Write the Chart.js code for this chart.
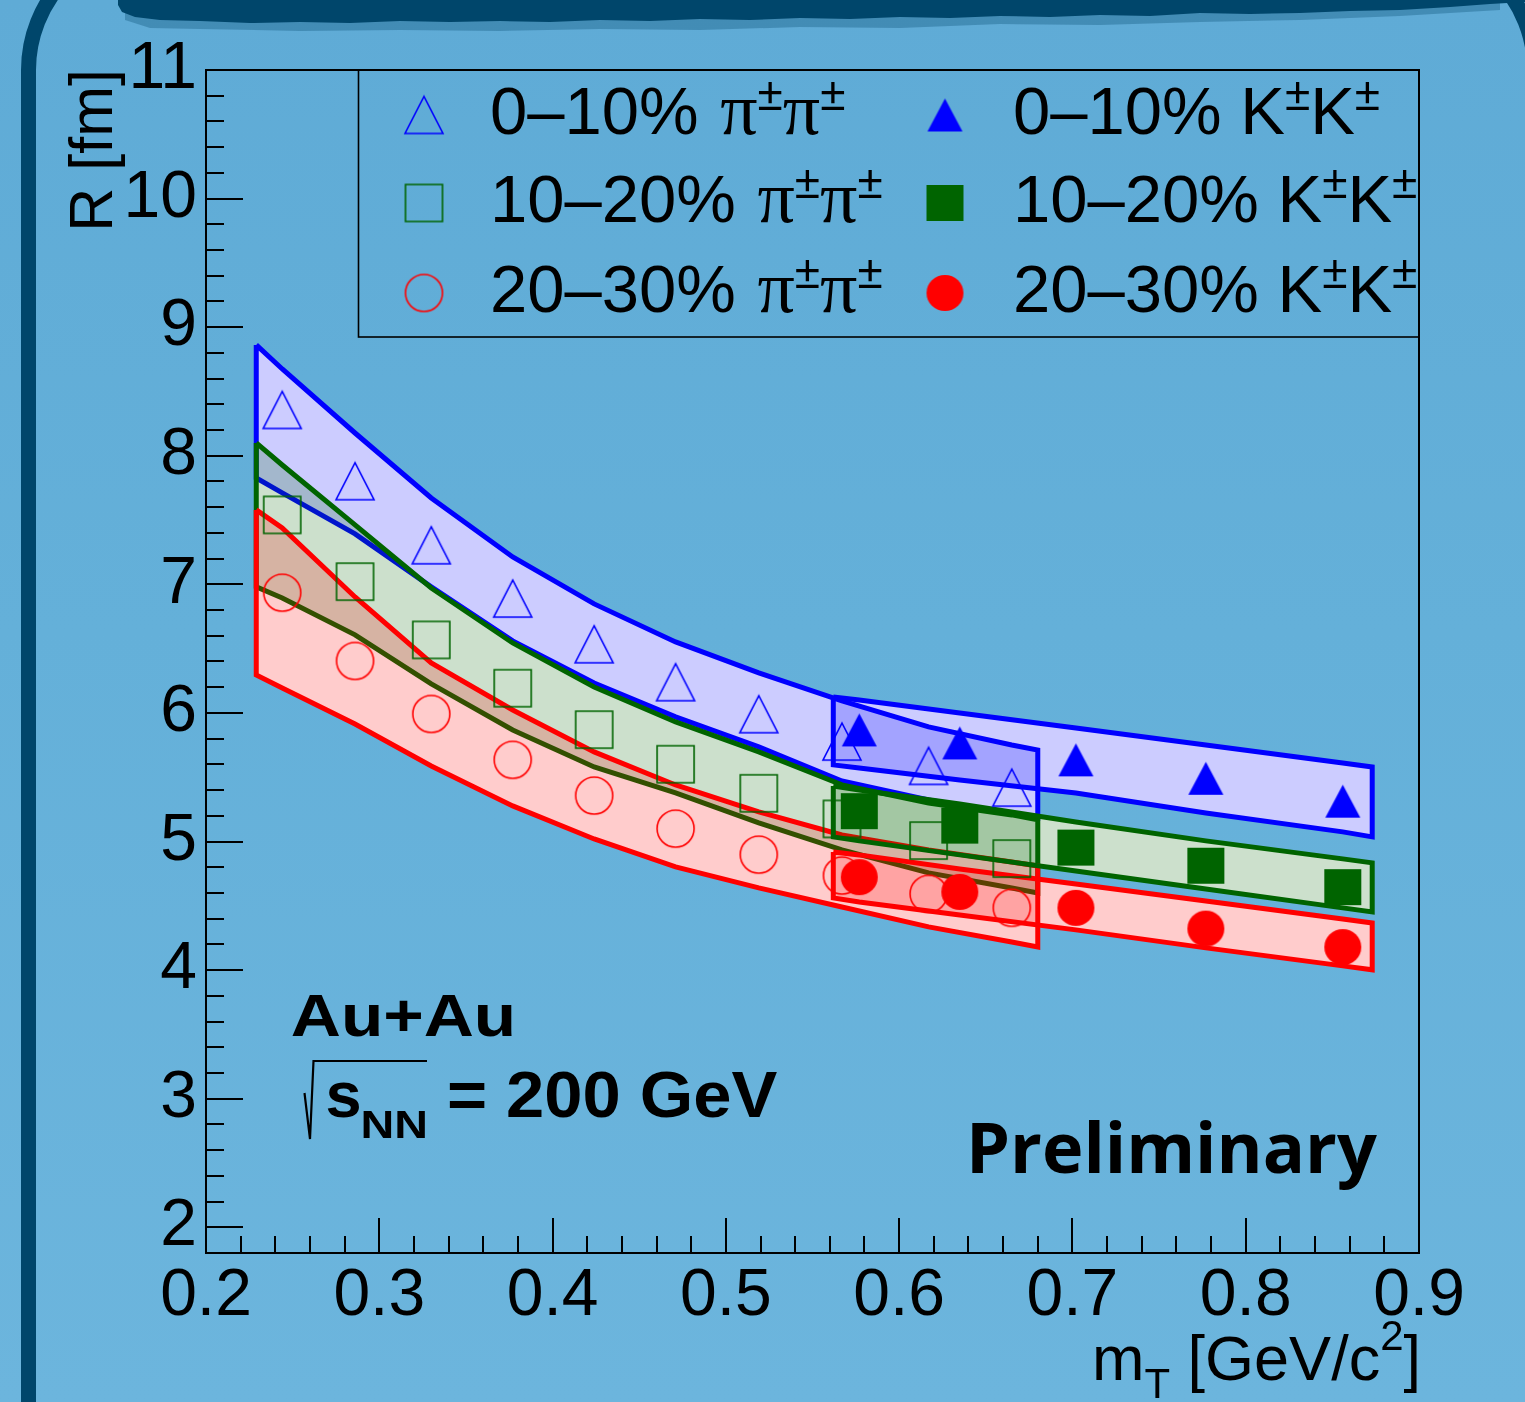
<!DOCTYPE html>
<html>
<head>
<meta charset="utf-8">
<title>HBT radii vs mT</title>
<script src="https://cdn.jsdelivr.net/npm/chart.js@4.4.1/dist/chart.umd.min.js"></script>
<style>
html,body{margin:0;padding:0;width:1525px;height:1402px;overflow:hidden;
  background:linear-gradient(180deg,#5fabd6 0%,#64b0d9 45%,#6cb5dd 100%);}
#frame{position:absolute;left:21px;top:-68px;width:1491px;height:1600px;border:15px solid #00466b;border-radius:138px;}
#brush{position:absolute;left:0;top:0;}
#c{position:absolute;left:0;top:0;}
</style>
</head>
<body>
<div id="frame"></div>
<svg id="brush" width="1525" height="60" viewBox="0 0 1525 60">
  <path fill="#00466b" opacity="0.3" d="M125,0 L1500,0 L1500,10 L1400,16 L1300,20 L1200,22 L1100,25 L1000,24 L900,28 L800,27 L700,30 L600,29 L500,31 L400,30 L300,31 L200,29 L150,28 L125,20 Z"/>
  <path fill="#00466b" d="M118,0 L1525,0 L1525,2 L1490,4 L1450,7 L1400,10 L1350,11 L1300,13 L1250,14 L1200,13 L1150,16 L1100,15 L1050,17 L1000,16 L950,18 L900,17 L850,19 L800,18 L750,20 L700,19 L650,21 L600,20 L550,22 L500,21 L450,22 L400,21 L350,23 L300,22 L250,23 L200,21 L160,20 L135,17 L122,12 L118,5 Z"/>
</svg>
<canvas id="c" width="1525" height="1402"></canvas>
<script>
// ---------------- data ----------------
const xTickValues = [0.2, 0.3, 0.4, 0.5, 0.6, 0.7, 0.8, 0.9];
const xTickLabels = ['0.2', '0.3', '0.4', '0.5', '0.6', '0.7', '0.8', '0.9'];
const yTickValues = [2, 3, 4, 5, 6, 7, 8, 9, 10, 11];
const yTickLabels = ['2', '3', '4', '5', '6', '7', '8', '9', '10', '11'];

const centralityLabels = ['0\u201310%', '10\u201320%', '20\u201330%'];

const pionMt = [0.244, 0.286, 0.330, 0.377, 0.424, 0.471, 0.519, 0.567, 0.617, 0.665];
const pionR_0_10  = [8.356, 7.802, 7.304, 6.889, 6.534, 6.239, 5.990, 5.777, 5.588, 5.419];
const pionR_10_20 = [7.540, 7.021, 6.568, 6.192, 5.870, 5.601, 5.375, 5.176, 5.007, 4.867];
const pionR_20_30 = [6.935, 6.404, 5.992, 5.635, 5.357, 5.100, 4.898, 4.735, 4.593, 4.484];

const kaonMt = [0.577, 0.635, 0.702, 0.777, 0.856];
const kaonR_0_10  = [5.868, 5.767, 5.635, 5.492, 5.314];
const kaonR_10_20 = [5.236, 5.124, 4.953, 4.812, 4.645];
const kaonR_20_30 = [4.723, 4.608, 4.484, 4.323, 4.179];

const pionSysMt = [0.229, 0.244, 0.286, 0.330, 0.377, 0.424, 0.471, 0.519, 0.567, 0.617, 0.665, 0.680];
const pionSysHi_0_10  = [8.862, 8.675, 8.177, 7.672, 7.213, 6.848, 6.552, 6.311, 6.093, 5.891, 5.751, 5.712];
const pionSysLo_0_10  = [7.827, 7.711, 7.392, 6.980, 6.560, 6.233, 5.969, 5.736, 5.471, 5.324, 5.215, 5.184];
const pionSysHi_10_20 = [8.100, 7.928, 7.462, 6.972, 6.544, 6.202, 5.930, 5.697, 5.440, 5.300, 5.207, 5.168];
const pionSysLo_10_20 = [6.980, 6.894, 6.607, 6.226, 5.868, 5.580, 5.378, 5.145, 4.935, 4.756, 4.639, 4.600];
const pionSysHi_20_30 = [7.579, 7.439, 6.902, 6.389, 6.023, 5.697, 5.440, 5.230, 5.051, 4.935, 4.841, 4.810];
const pionSysLo_20_30 = [6.296, 6.194, 5.914, 5.588, 5.277, 5.020, 4.803, 4.639, 4.491, 4.336, 4.219, 4.180];

const kaonSysMt = [0.562, 0.577, 0.635, 0.702, 0.777, 0.856, 0.873];
const kaonSysHi_0_10  = [6.124, 6.101, 6.000, 5.883, 5.751, 5.611, 5.580];
const kaonSysLo_0_10  = [5.596, 5.572, 5.479, 5.378, 5.222, 5.075, 5.036];
const kaonSysHi_10_20 = [5.432, 5.401, 5.292, 5.152, 5.005, 4.865, 4.834];
const kaonSysLo_10_20 = [5.036, 5.005, 4.896, 4.771, 4.631, 4.484, 4.453];
const kaonSysHi_20_30 = [4.919, 4.896, 4.787, 4.670, 4.538, 4.398, 4.367];
const kaonSysLo_20_30 = [4.561, 4.530, 4.429, 4.313, 4.173, 4.033, 4.002];

// ---------------- styling helpers ----------------
const BLUE = '#0000ff', GREEN = '#006400', RED = '#ff0000';
const SANS = '"Liberation Sans", Arial, Helvetica, sans-serif';
const SERIF = '"Liberation Serif", "Times New Roman", serif';

function makeMarker(shape, filled, color, w, h, lw) {
  const pad = 3;
  const c = document.createElement('canvas');
  c.width = Math.ceil(w + 2 * pad); c.height = Math.ceil(h + 2 * pad);
  const g = c.getContext('2d');
  const cx = c.width / 2, cy = c.height / 2;
  g.beginPath();
  if (shape === 'tri') {
    g.moveTo(cx - w / 2, cy + h / 2); g.lineTo(cx + w / 2, cy + h / 2); g.lineTo(cx, cy - h / 2); g.closePath();
  } else if (shape === 'sq') {
    g.rect(cx - w / 2, cy - h / 2, w, h);
  } else {
    g.ellipse(cx, cy, w / 2, h / 2, 0, 0, Math.PI * 2);
  }
  if (filled) { g.fillStyle = color; g.fill(); }
  else { g.strokeStyle = color; g.lineWidth = lw; g.stroke(); }
  return c;
}

const mk = {
  piTri: makeMarker('tri', false, BLUE, 38, 37, 1.6),
  piSq: makeMarker('sq', false, GREEN, 37, 37, 1.6),
  piCirc: makeMarker('circ', false, RED, 37, 37, 1.6),
  kTri: makeMarker('tri', true, BLUE, 35, 33, 0),
  kSq: makeMarker('sq', true, GREEN, 37, 36, 0),
  kCirc: makeMarker('circ', true, RED, 37, 36, 0)
};

function pts(xs, ys) { return xs.map((x, i) => ({x: x, y: ys[i]})); }
function polygon(xs, hi, lo) {
  const p = [];
  for (let i = 0; i < xs.length; i++) p.push({x: xs[i], y: hi[i]});
  for (let i = xs.length - 1; i >= 0; i--) p.push({x: xs[i], y: lo[i]});
  p.push({x: xs[0], y: hi[0]});
  return p;
}

const bands = [
  {x: pionSysMt, hi: pionSysHi_0_10,  lo: pionSysLo_0_10,  line: BLUE,  fill: 'rgba(0,0,255,0.2)'},
  {x: pionSysMt, hi: pionSysHi_10_20, lo: pionSysLo_10_20, line: GREEN, fill: 'rgba(0,100,0,0.2)'},
  {x: pionSysMt, hi: pionSysHi_20_30, lo: pionSysLo_20_30, line: RED,   fill: 'rgba(255,0,0,0.2)'},
  {x: kaonSysMt, hi: kaonSysHi_0_10,  lo: kaonSysLo_0_10,  line: BLUE,  fill: 'rgba(0,0,255,0.2)'},
  {x: kaonSysMt, hi: kaonSysHi_10_20, lo: kaonSysLo_10_20, line: GREEN, fill: 'rgba(0,100,0,0.2)'},
  {x: kaonSysMt, hi: kaonSysHi_20_30, lo: kaonSysLo_20_30, line: RED,   fill: 'rgba(255,0,0,0.2)'}
];

const markerSets = [
  {x: pionMt, y: pionR_0_10,  img: mk.piTri},
  {x: pionMt, y: pionR_10_20, img: mk.piSq},
  {x: pionMt, y: pionR_20_30, img: mk.piCirc},
  {x: kaonMt, y: kaonR_0_10,  img: mk.kTri},
  {x: kaonMt, y: kaonR_10_20, img: mk.kSq},
  {x: kaonMt, y: kaonR_20_30, img: mk.kCirc}
];

// ---------------- datasets (explicit drawing sequence) ----------------
const datasets = [];
let seq = 0;
function add(ds) { ds.order = -(seq++); datasets.push(ds); return datasets.length - 1; }
const noLine = {borderWidth: 0, borderColor: 'rgba(0,0,0,0)', pointRadius: 0, tension: 0};

// opaque white underlay (fills look as if composited on white paper)
bands.forEach(b => {
  const lo = add(Object.assign({data: pts(b.x, b.lo), fill: false}, noLine));
  add(Object.assign({data: pts(b.x, b.hi), fill: lo, backgroundColor: '#ffffff'}, noLine));
});
// translucent coloured bands with outlines
bands.forEach(b => {
  const lo = add(Object.assign({data: pts(b.x, b.lo), fill: false}, noLine));
  add(Object.assign({data: pts(b.x, b.hi), fill: lo, backgroundColor: b.fill}, noLine));
  add({data: polygon(b.x, b.hi, b.lo), fill: false, borderColor: b.line, borderWidth: 5,
       pointRadius: 0, tension: 0, borderJoinStyle: 'miter'});
});
// markers
markerSets.forEach(m => {
  add({data: pts(m.x, m.y), showLine: false, fill: false, pointStyle: m.img, pointRadius: 20,
       borderWidth: 0, borderColor: 'rgba(0,0,0,0)'});
});

// ---------------- decorations plugin ----------------
function richText(ctx, x, y, parts) {
  ctx.textAlign = 'left'; ctx.textBaseline = 'alphabetic';
  for (const p of parts) {
    ctx.font = p.f;
    ctx.fillText(p.t, x, y + (p.dy || 0));
    x += ctx.measureText(p.t).width + (p.gap || 0);
  }
  return x;
}
function richWidth(ctx, parts) {
  let w = 0;
  for (const p of parts) { ctx.font = p.f; w += ctx.measureText(p.t).width + (p.gap || 0); }
  return w;
}
function fitText(ctx, text, font, xL, xR, base) {
  ctx.font = font; ctx.textAlign = 'left'; ctx.textBaseline = 'alphabetic';
  const m = ctx.measureText(text);
  const ink = m.actualBoundingBoxLeft + m.actualBoundingBoxRight;
  const sx = (xR - xL) / ink;
  ctx.save(); ctx.translate(xL, base); ctx.scale(sx, 1);
  ctx.fillText(text, m.actualBoundingBoxLeft, 0);
  ctx.restore();
}

const decor = {
  id: 'decor',
  afterDraw(chart) {
    const ctx = chart.ctx, xs = chart.scales.x, ys = chart.scales.y, a = chart.chartArea;
    ctx.save();
    ctx.strokeStyle = '#000'; ctx.fillStyle = '#000';
    // ticks (inside, ROOT style)
    ctx.lineWidth = 2;
    ctx.beginPath();
    for (let i = 0; i <= 35; i++) {
      const px = Math.round(xs.getPixelForValue(0.2 + i * 0.02));
      const len = (i % 5 === 0) ? 35 : 17;
      ctx.moveTo(px, a.bottom); ctx.lineTo(px, a.bottom - len);
    }
    for (let i = 1; i <= 46; i++) {
      const py = Math.round(ys.getPixelForValue(1.8 + i * 0.2));
      const len = ((i - 1) % 5 === 0) ? 37 : 18;
      ctx.moveTo(a.left, py); ctx.lineTo(a.left + len, py);
    }
    ctx.stroke();
    // frame
    ctx.lineWidth = 2;
    ctx.strokeRect(a.left, a.top, a.right - a.left, a.bottom - a.top);

    // legend box
    ctx.lineWidth = 1.6;
    ctx.strokeRect(358.5, a.top, a.right - 358.5, 337 - a.top);
    const pis = [mk.piTri, mk.piSq, mk.piCirc];
    const ks = [mk.kTri, mk.kSq, mk.kCirc];
    const rowMarkY = [115, 203, 293];
    const rowBase = [134, 222, 312];
    const F = '67px ' + SANS, FS = '74px ' + SERIF, FSUP = '46px ' + SANS;
    for (let r = 0; r < 3; r++) {
      let img = pis[r];
      ctx.drawImage(img, 424 - img.width / 2, rowMarkY[r] - img.height / 2);
      img = ks[r];
      ctx.drawImage(img, 945 - img.width / 2, rowMarkY[r] - img.height / 2);
      richText(ctx, 490, rowBase[r], [
        {t: centralityLabels[r] + ' ', f: F, gap: 3},
        {t: '\u03c0', f: FS}, {t: '\u00b1', f: FSUP, dy: -24},
        {t: '\u03c0', f: FS}, {t: '\u00b1', f: FSUP, dy: -24}
      ]);
      richText(ctx, 1013, rowBase[r], [
        {t: centralityLabels[r] + ' ', f: F},
        {t: 'K', f: F}, {t: '\u00b1', f: FSUP, dy: -24},
        {t: 'K', f: F}, {t: '\u00b1', f: FSUP, dy: -24}
      ]);
    }

    // axis titles
    ctx.save();
    ctx.translate(112, 69); ctx.rotate(-Math.PI / 2);
    ctx.font = '61px ' + SANS; ctx.textAlign = 'right'; ctx.textBaseline = 'alphabetic';
    ctx.fillText('R [fm]', 0, 0);
    ctx.restore();

    const xt = [
      {t: 'm', f: '63px ' + SANS}, {t: 'T', f: '42px ' + SANS, dy: 18},
      {t: ' [GeV/c', f: '63px ' + SANS}, {t: '2', f: '42px ' + SANS, dy: -30},
      {t: ']', f: '63px ' + SANS}
    ];
    richText(ctx, 1421 - richWidth(ctx, xt), 1380, xt);

    // collision system labels
    fitText(ctx, 'Au+Au', 'bold 60px ' + SANS, 292, 512, 1036);
    // sqrt sign
    ctx.lineWidth = 2.2;
    ctx.beginPath();
    ctx.moveTo(304.5, 1093); ctx.lineTo(310, 1139); ctx.lineTo(313.5, 1061); ctx.lineTo(427, 1061);
    ctx.stroke();
    fitText(ctx, 's', 'bold 65px ' + SANS, 327.5, 359.5, 1116.7);
    fitText(ctx, 'NN', 'bold 39px ' + SANS, 363, 425.5, 1138.3);
    fitText(ctx, '= 200 GeV', 'bold 65px ' + SANS, 449, 777, 1116.7);
    fitText(ctx, 'Preliminary', 'bold 70px "Open Sans", ' + SANS, 972, 1377, 1173);
    ctx.restore();
  }
};

Chart.defaults.color = '#000';
Chart.defaults.font.family = SANS;

new Chart(document.getElementById('c'), {
  type: 'line',
  data: {datasets: datasets},
  options: {
    responsive: false,
    animation: false,
    events: [],
    layout: {padding: {left: 0, top: 70, right: 106, bottom: 0}},
    plugins: {legend: {display: false}, tooltip: {enabled: false}, title: {display: false}},
    scales: {
      x: {
        type: 'linear', min: 0.2, max: 0.9,
        grid: {display: false, drawTicks: false}, border: {display: false},
        ticks: {autoSkip: false, maxRotation: 0, minRotation: 0, padding: 4, color: '#000',
                font: {size: 66, family: SANS}, callback: (v, i) => xTickLabels[i]},
        afterBuildTicks: s => { s.ticks = xTickValues.map(v => ({value: v})); },
        afterFit: s => { s.height = 149; }
      },
      y: {
        type: 'linear', min: 1.8, max: 11,
        grid: {display: false, drawTicks: false}, border: {display: false},
        ticks: {autoSkip: false, padding: 9, color: '#000',
                font: {size: 66, family: SANS}, callback: (v, i) => yTickLabels[i]},
        afterBuildTicks: s => { s.ticks = yTickValues.map(v => ({value: v})); },
        afterFit: s => { s.width = 206; }
      }
    }
  },
  plugins: [decor]
});
</script>
</body>
</html>
